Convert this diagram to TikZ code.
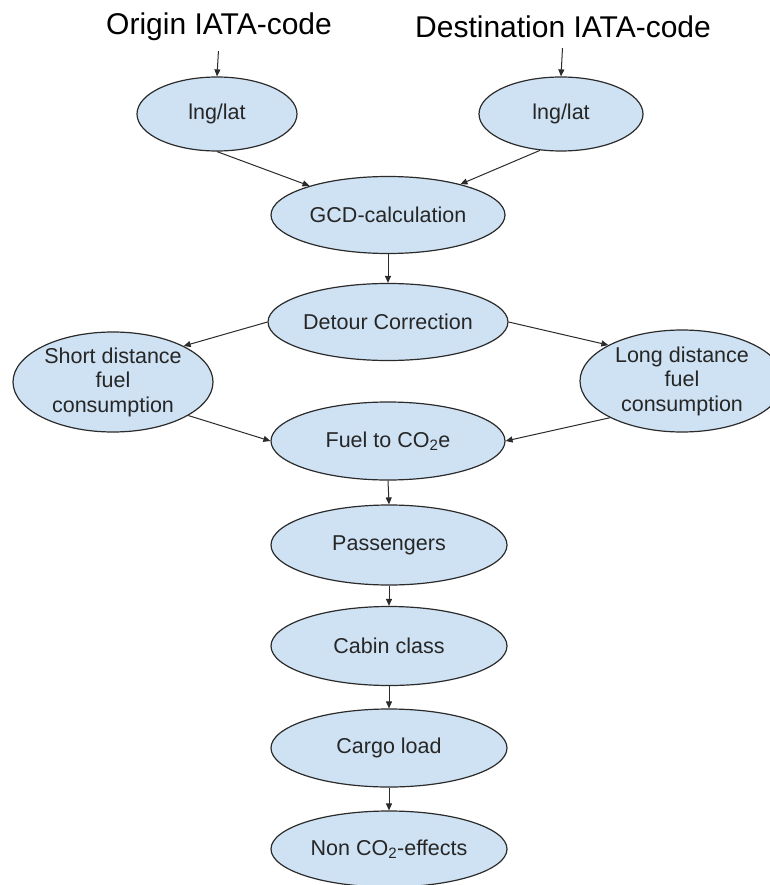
\documentclass[tikz,border=0pt]{standalone}
\usepackage{fontspec}
\setmainfont{Liberation Sans}
\usetikzlibrary{shapes.geometric,arrows.meta}
\definecolor{nodefill}{HTML}{CFE2F3}
\definecolor{linec}{HTML}{2B2B2B}
\definecolor{txtc}{HTML}{262626}
\tikzset{
  oval/.style={ellipse, draw=linec, line width=1.2pt, fill=nodefill, inner sep=0pt,
    text=txtc, align=center, font=\fontsize{21.5}{24.5}\selectfont},
  title/.style={inner sep=0pt, text=black, font=\fontsize{30}{34}\selectfont},
  conn/.style={draw=linec, line width=1pt, -{Triangle[length=7pt,width=6pt]}}
}
\begin{document}
\begin{tikzpicture}[x=1pt,y=-1pt]
\clip (0,0) rectangle (770,885);
\fill[white] (0,0) rectangle (770,885);

\node[title] (t1) at (219,27) {Origin IATA-code};
\node[title] (t2) at (563,27) {Destination IATA-code};

\node[oval, minimum width=160pt, minimum height=74pt] (ll) at (217,114) {lng/lat};
\node[oval, minimum width=164pt, minimum height=74pt] (lr) at (561,114) {lng/lat};
\node[oval, minimum width=234pt, minimum height=77pt] (gcd) at (388,215) {GCD-calculation};
\node[oval, minimum width=234pt, minimum height=77pt] (det) at (388,322) {Detour Correction};
\node[oval, minimum width=200pt, minimum height=100pt] (sh) at (113,382) {Short distance\\fuel\\consumption};
\node[oval, minimum width=204pt, minimum height=102pt] (lo) at (682,381) {Long distance\\fuel\\consumption};
\node[oval, minimum width=234pt, minimum height=78pt] (fuel) at (388,441) {Fuel to CO\textsubscript{2}e};
\node[oval, minimum width=236pt, minimum height=80pt] (pas) at (389,545) {Passengers};
\node[oval, minimum width=236pt, minimum height=79pt] (cab) at (389,646) {Cabin class};
\node[oval, minimum width=236pt, minimum height=78pt] (car) at (389,748) {Cargo load};
\node[oval, minimum width=236pt, minimum height=76pt] (non) at (389,849) {Non CO\textsubscript{2}-effects};

\draw[conn, shorten <=10pt] (t1.south) -- (ll.north);
\draw[conn, shorten <=10pt] (t2.south) -- (lr.north);
\draw[conn] (ll.south) -- (gcd);
\draw[conn] (lr.-120) -- (gcd);
\draw[conn] (gcd.south) -- (det.north);
\draw[conn] (det.west) -- (sh.27);
\draw[conn] (det.east) -- (lo.154);
\draw[conn] (sh.-24) -- (fuel.west);
\draw[conn] (lo.-153) -- (fuel.east);
\draw[conn] (fuel.south) -- (pas.north);
\draw[conn] (pas.south) -- (cab.north);
\draw[conn] (cab.south) -- (car.north);
\draw[conn] (car.south) -- (non.north);
\end{tikzpicture}
\end{document}
